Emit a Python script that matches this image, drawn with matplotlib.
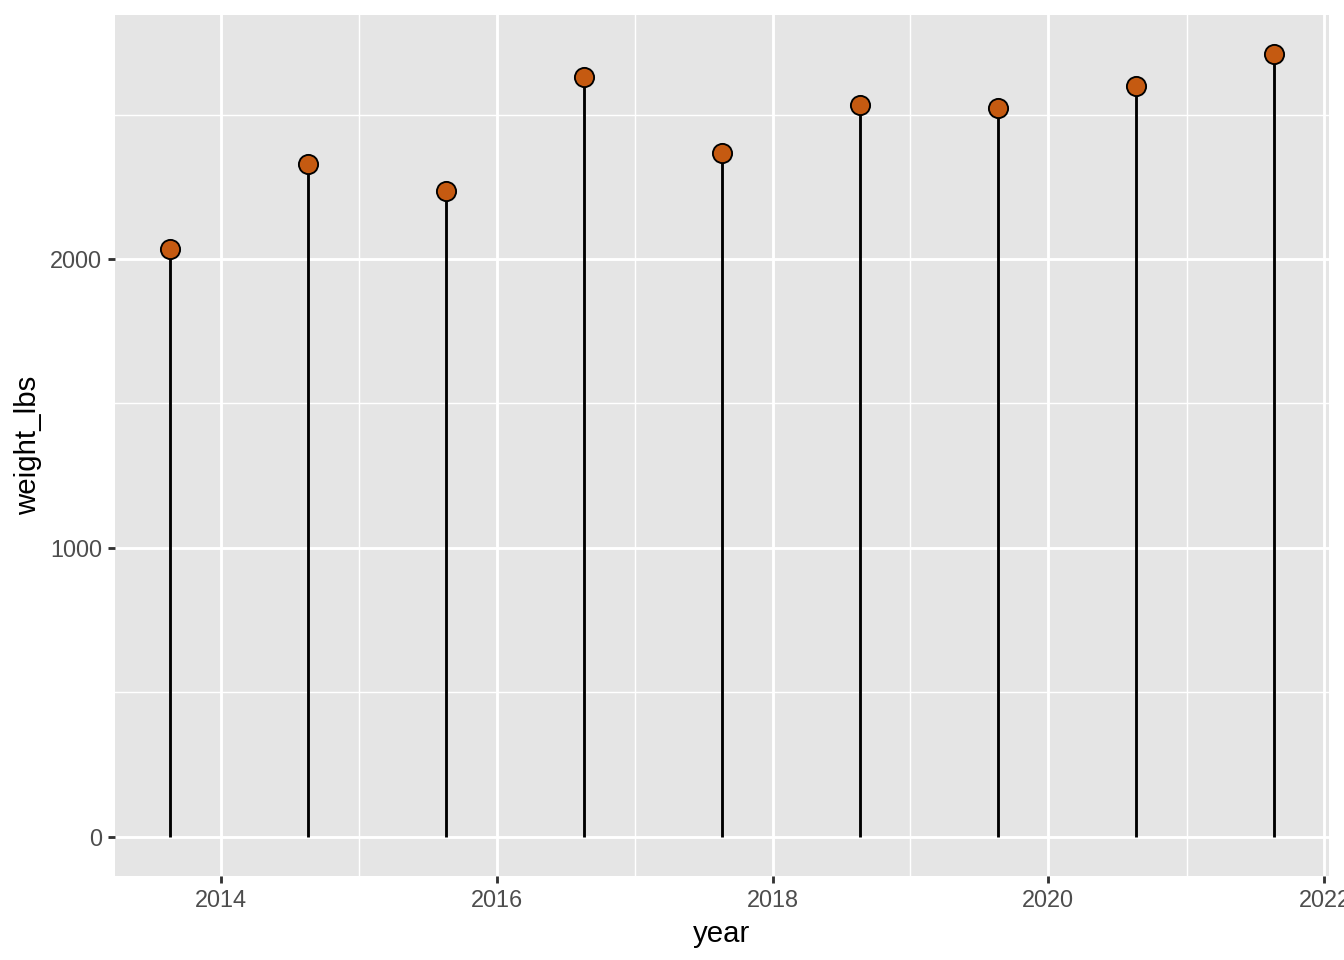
import matplotlib
matplotlib.use("Agg")
import matplotlib.pyplot as plt
import matplotlib.dates as mdates
import pandas as pd

dates = ["2013-08-20", "2014-08-20", "2015-08-20", "2016-08-20", "2017-08-20",
         "2018-08-20", "2019-08-20", "2020-08-20", "2021-08-20"]
weight_lbs = [2035, 2329, 2235, 2630, 2367, 2533, 2522, 2599, 2709]
y_ticks = [0, 1000, 2000]
y_minor = [500, 1500, 2500]

x = pd.to_datetime(dates)

plt.rcParams['font.family'] = ['Liberation Sans', 'DejaVu Sans']
fig = plt.figure(figsize=(7, 5), dpi=192)
ax = fig.add_axes([115/1344, 1 - 876/960, (1329-115)/1344, (876-15)/960])
ax.set_facecolor('#E5E5E5')
for s in ax.spines.values():
    s.set_visible(False)

ax.vlines(x, 0, weight_lbs, color='black', linewidth=1.07, zorder=3)
ax.plot(x, weight_lbs, linestyle='none', marker='o', markersize=7.2,
        markerfacecolor='#C55A11', markeredgecolor='black', markeredgewidth=0.7, zorder=4)

# limits with ggplot-like expansion
xn = mdates.date2num(x)
span = xn.max() - xn.min()
ax.set_xlim(xn.min() - 0.05*span, xn.max() + 0.05*span)
ymax = max(weight_lbs)
ax.set_ylim(-0.05*ymax, ymax*1.05)

ax.xaxis.set_major_locator(mdates.YearLocator(2))
ax.xaxis.set_major_formatter(mdates.DateFormatter('%Y'))
ax.xaxis.set_minor_locator(mdates.YearLocator(1))
ax.set_yticks(y_ticks)
ax.set_yticks(y_minor, minor=True)

ax.grid(which='major', color='white', linewidth=1.07, zorder=0)
ax.grid(which='minor', color='white', linewidth=0.53, zorder=0)
ax.set_axisbelow(True)

ax.tick_params(which='major', length=2.75, width=1.07, color='#333333',
               labelsize=8.8, labelcolor='#4D4D4D', pad=2.2)
ax.tick_params(which='minor', length=0)

ax.set_xlabel('year', fontsize=11, color='black', labelpad=2.75)
ax.set_ylabel('weight_lbs', fontsize=11, color='black', labelpad=2.75)

fig.savefig('out.png', dpi=192, facecolor='white')
